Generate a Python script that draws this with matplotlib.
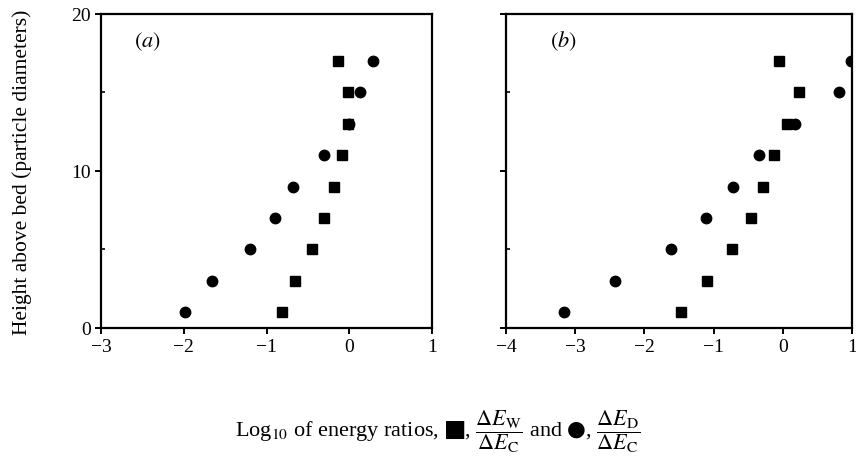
import matplotlib
matplotlib.use('Agg')
import matplotlib.pyplot as plt

plt.rcParams['font.family'] = ['Liberation Serif', 'DejaVu Sans']
plt.rcParams['mathtext.fontset'] = 'stix'

heights = [1, 3, 5, 7, 9, 11, 13, 15, 17]

# panel (a)
a_wall = [-0.81, -0.66, -0.45, -0.31, -0.19, -0.09, -0.02, -0.02, -0.14]
a_drag = [-1.98, -1.66, -1.20, -0.90, -0.68, -0.31, 0.00, 0.13, 0.29]

# panel (b)
b_wall = [-1.47, -1.09, -0.73, -0.46, -0.28, -0.12, 0.06, 0.23, -0.06]
b_drag = [-3.16, -2.42, -1.61, -1.11, -0.72, -0.34, 0.18, 0.81, 0.98]

a_xticks = [-3, -2, -1, 0, 1]
b_xticks = [-4, -3, -2, -1, 0, 1]
yticks = [0, 10, 20]

fig = plt.figure(figsize=(8.56, 4.60), dpi=100)
ax_a = fig.add_axes([0.118, 0.285, 0.3867, 0.6826])
ax_b = fig.add_axes([0.5911, 0.285, 0.4042, 0.6826])


def style_panel(ax, xticks, label, lx):
    ax.set_xlim(xticks[0], xticks[-1])
    ax.set_ylim(0, 20)
    ax.set_xticks(xticks)
    ax.set_xticklabels([str(t).replace('-', '\u2212') for t in xticks])
    ax.set_yticks(yticks)
    ax.set_yticks([5, 15], minor=True)
    ax.tick_params(direction='out', length=4, width=1.4, labelsize=14)
    ax.tick_params(which='minor', direction='in', length=3, width=1.2)
    for sp in ax.spines.values():
        sp.set_linewidth(1.6)
    ax.text(lx, 0.915, '$(' + label + ')$',
            transform=ax.transAxes, fontsize=16, va='center', ha='center')


ax_a.plot(a_wall, heights, 's', color='black', markersize=7.5)
ax_a.plot(a_drag, heights, 'o', color='black', markersize=7.5)
ax_b.plot(b_wall, heights, 's', color='black', markersize=7.5)
ax_b.plot(b_drag, heights, 'o', color='black', markersize=7.5)

style_panel(ax_a, a_xticks, 'a', 0.14)
style_panel(ax_b, b_xticks, 'b', 0.165)
ax_b.set_yticklabels([])

ax_a.set_ylabel('Height above bed (particle diameters)', fontsize=15.5, labelpad=28)

fig.text(0.512, 0.062,
         r'Log$_{10}$ of energy ratios, $■$, $\dfrac{\Delta E_{\rm W}}{\Delta E_{\rm C}}$ and $●$, '
         r'$\dfrac{\Delta E_{\rm D}}{\Delta E_{\rm C}}$',
         ha='center', va='center', fontsize=16)

fig.savefig('out.png', dpi=100)
